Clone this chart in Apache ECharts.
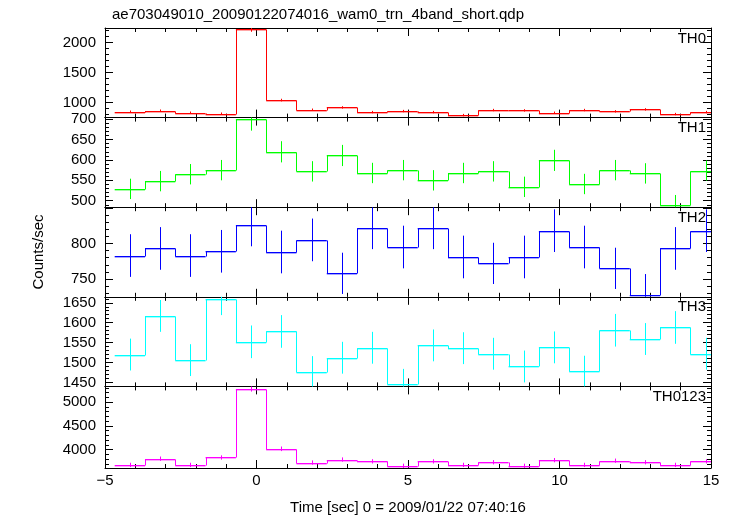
<!DOCTYPE html>
<html><head><meta charset="utf-8">
<script src="https://cdn.jsdelivr.net/npm/echarts@6/dist/echarts.min.js"></script>
<style>html,body{margin:0;padding:0;background:#fff}#c{width:733px;height:516px}</style>
</head><body><div id="c"></div>
<script>
// ---- data ----
const chartTitle = 'ae703049010_20090122074016_wam0_trn_4band_short.qdp';
const xTitle = 'Time [sec] 0 = 2009/01/22 07:40:16';
const yTitle = 'Counts/sec';
const panelNames = ['TH0', 'TH1', 'TH2', 'TH3', 'TH0123'];
const binWidth = 1.0;
const binCenters = [-4.18, -3.18, -2.18, -1.18, -0.18, 0.82, 1.82, 2.82, 3.82, 4.82,
                    5.82, 6.82, 7.82, 8.82, 9.82, 10.82, 11.82, 12.82, 13.82, 14.82];
const th0 = [850, 867, 833, 817, 2222, 1044, 883, 922, 844, 861, 844, 794, 878, 872, 833, 878, 856, 889, 811, 844];
const th0Err = [20, 20, 20, 20, 40, 22, 20, 20, 20, 20, 20, 20, 20, 20, 20, 20, 20, 20, 20, 20];
const th1 = [529, 548, 565, 575, 700, 620, 572, 611, 568, 575, 550, 568, 572, 534, 599, 541, 575, 567, 490, 574];
const th1Err = [25, 25, 25, 25, 28, 26, 25, 26, 25, 25, 25, 25, 25, 25, 26, 25, 25, 25, 24, 25];
const th2 = [783, 793, 783, 789, 826, 788, 805, 758, 822, 795, 822, 781, 772, 781, 818, 795, 765, 728, 793, 818];
const th2Err = [30, 30, 30, 30, 30, 30, 30, 29, 30, 30, 30, 30, 29, 30, 30, 30, 29, 29, 30, 30];
const th3 = [1520, 1617, 1506, 1659, 1552, 1578, 1477, 1512, 1537, 1445, 1543, 1536, 1522, 1490, 1538, 1478, 1581, 1559, 1588, 1522];
const th3Err = [40, 40, 40, 40, 41, 41, 39, 40, 40, 39, 40, 40, 40, 40, 40, 39, 41, 40, 41, 40];
const th0123 = [3681, 3812, 3681, 3837, 5281, 4019, 3731, 3794, 3756, 3662, 3756, 3681, 3737, 3662, 3781, 3681, 3769, 3737, 3681, 3756];
const th0123Err = [45, 45, 45, 45, 60, 48, 45, 45, 45, 45, 45, 45, 45, 45, 45, 45, 45, 45, 45, 45];
const xMin = -5, xMax = 15, xStep = 5;
const yMins = [752, 484, 725, 1440, 3616];
const yMaxs = [2245, 704, 851, 1665, 5330];
const ySteps = [500, 50, 50, 50, 500];

const values = [th0, th1, th2, th3, th0123];
const errors = [th0Err, th1Err, th2Err, th3Err, th0123Err];
const colors = ['#ff0000', '#00ff00', '#0000ff', '#00ffff', '#ff00ff'];

// ---- layout ----
const FONT = '"Liberation Sans", Arial, Helvetica, sans-serif';
const plotLeft = 105, plotRight = 711, plotTop = 28, plotBottom = 476;
const panelH = (plotBottom - plotTop) / 5;

const grids = [], xAxes = [], yAxes = [], series = [], graphics = [];
const isMult = (v, s) => Math.abs(v / s - Math.round(v / s)) < 1e-6;

for (let i = 0; i < 5; i++) {
  const top = plotTop + i * panelH;
  grids.push({left: plotLeft, width: plotRight - plotLeft, top: top, height: panelH});
  const tickCfg = {inside: true, length: 8, lineStyle: {color: '#000', width: 1}};
  const minorCfg = {show: true, splitNumber: 5, length: 4, lineStyle: {color: '#000', width: 1}};
  const lineCfg = {show: true, onZero: false, lineStyle: {color: '#000', width: 1}};
  ['bottom', 'top'].forEach(pos => {
    const showLab = (i === 4 && pos === 'bottom');
    xAxes.push({
      gridIndex: i, type: 'value', position: pos, min: xMin, max: xMax, interval: xStep,
      axisLine: lineCfg, axisTick: tickCfg, minorTick: minorCfg,
      splitLine: {show: false}, minorSplitLine: {show: false},
      axisLabel: {show: showLab, color: '#000', fontSize: 15, fontFamily: FONT, margin: 5,
        formatter: v => String(v).replace('-', '\u2212')},
      name: showLab ? xTitle : '', nameLocation: 'middle', nameGap: 32,
      nameTextStyle: {color: '#000', fontSize: 15, fontFamily: FONT}
    });
  });
  ['left', 'right'].forEach(pos => {
    const st = ySteps[i];
    const lo = yMins[i], hi = yMaxs[i], tol = 0.01 * (hi - lo);
    yAxes.push({
      gridIndex: i, type: 'value', position: pos, min: lo, max: hi,
      splitNumber: Math.round((hi - lo) / st), minInterval: st, maxInterval: st,
      axisLine: lineCfg, axisTick: tickCfg, minorTick: minorCfg,
      splitLine: {show: false}, minorSplitLine: {show: false},
      axisLabel: {show: pos === 'left', color: '#000', fontSize: 15, fontFamily: FONT, margin: 9,
        showMinLabel: true, showMaxLabel: true,
        formatter: v => (isMult(v, st) && v > lo + tol && v < hi - tol) ? String(Math.round(v)) : ''}
    });
  });
  const vals = values[i], errs = errors[i], color = colors[i];
  series.push({
    type: 'custom', xAxisIndex: 2 * i, yAxisIndex: 2 * i, clip: true, animation: false,
    data: binCenters.map((c, k) => [c, vals[k], errs[k]]),
    renderItem: function (params, api) {
      const k = params.dataIndex;
      const c = api.value(0), v = api.value(1), e = api.value(2);
      const px = x => Math.round(x) + 0.5;
      const L = api.coord([c - binWidth / 2, v]);
      const R = api.coord([c + binWidth / 2, v]);
      const T = api.coord([c, v + e]);
      const B = api.coord([c, v - e]);
      const y = px(L[1]);
      const ch = [];
      ch.push({type: 'line', shape: {x1: L[0], y1: y + 1, x2: R[0], y2: y + 1},
        style: {stroke: color, lineWidth: 1, opacity: 0.35}});
      ch.push({type: 'line', shape: {x1: L[0], y1: y, x2: R[0], y2: y},
        style: {stroke: color, lineWidth: 1}});
      if (k > 0) {
        const P = api.coord([c - binWidth / 2, vals[k - 1]]);
        ch.push({type: 'line', shape: {x1: px(L[0]), y1: px(P[1]), x2: px(L[0]), y2: y},
          style: {stroke: color, lineWidth: 1}});
      }
      ch.push({type: 'line', shape: {x1: px(T[0]), y1: T[1], x2: px(T[0]), y2: B[1]},
        style: {stroke: color, lineWidth: 1}});
      return {type: 'group', children: ch};
    }
  });
  graphics.push({type: 'text', right: 733 - 706, top: top + 3,
    style: {text: panelNames[i], fill: '#000', font: '15px ' + FONT}});
}

graphics.push({type: 'text', x: 39, y: (plotTop + plotBottom) / 2, rotation: Math.PI / 2,
  style: {text: yTitle, fill: '#000', font: '15px ' + FONT, align: 'center', verticalAlign: 'middle'}});

const chart = echarts.init(document.getElementById('c'), null, {renderer: 'canvas'});
chart.setOption({
  animation: false,
  backgroundColor: '#fff',
  title: {text: chartTitle, left: 107, top: 2,
    textStyle: {color: '#000', fontSize: 15, fontWeight: 'normal', fontFamily: FONT}},
  grid: grids, xAxis: xAxes, yAxis: yAxes, series: series, graphic: graphics
});
</script></body></html>
